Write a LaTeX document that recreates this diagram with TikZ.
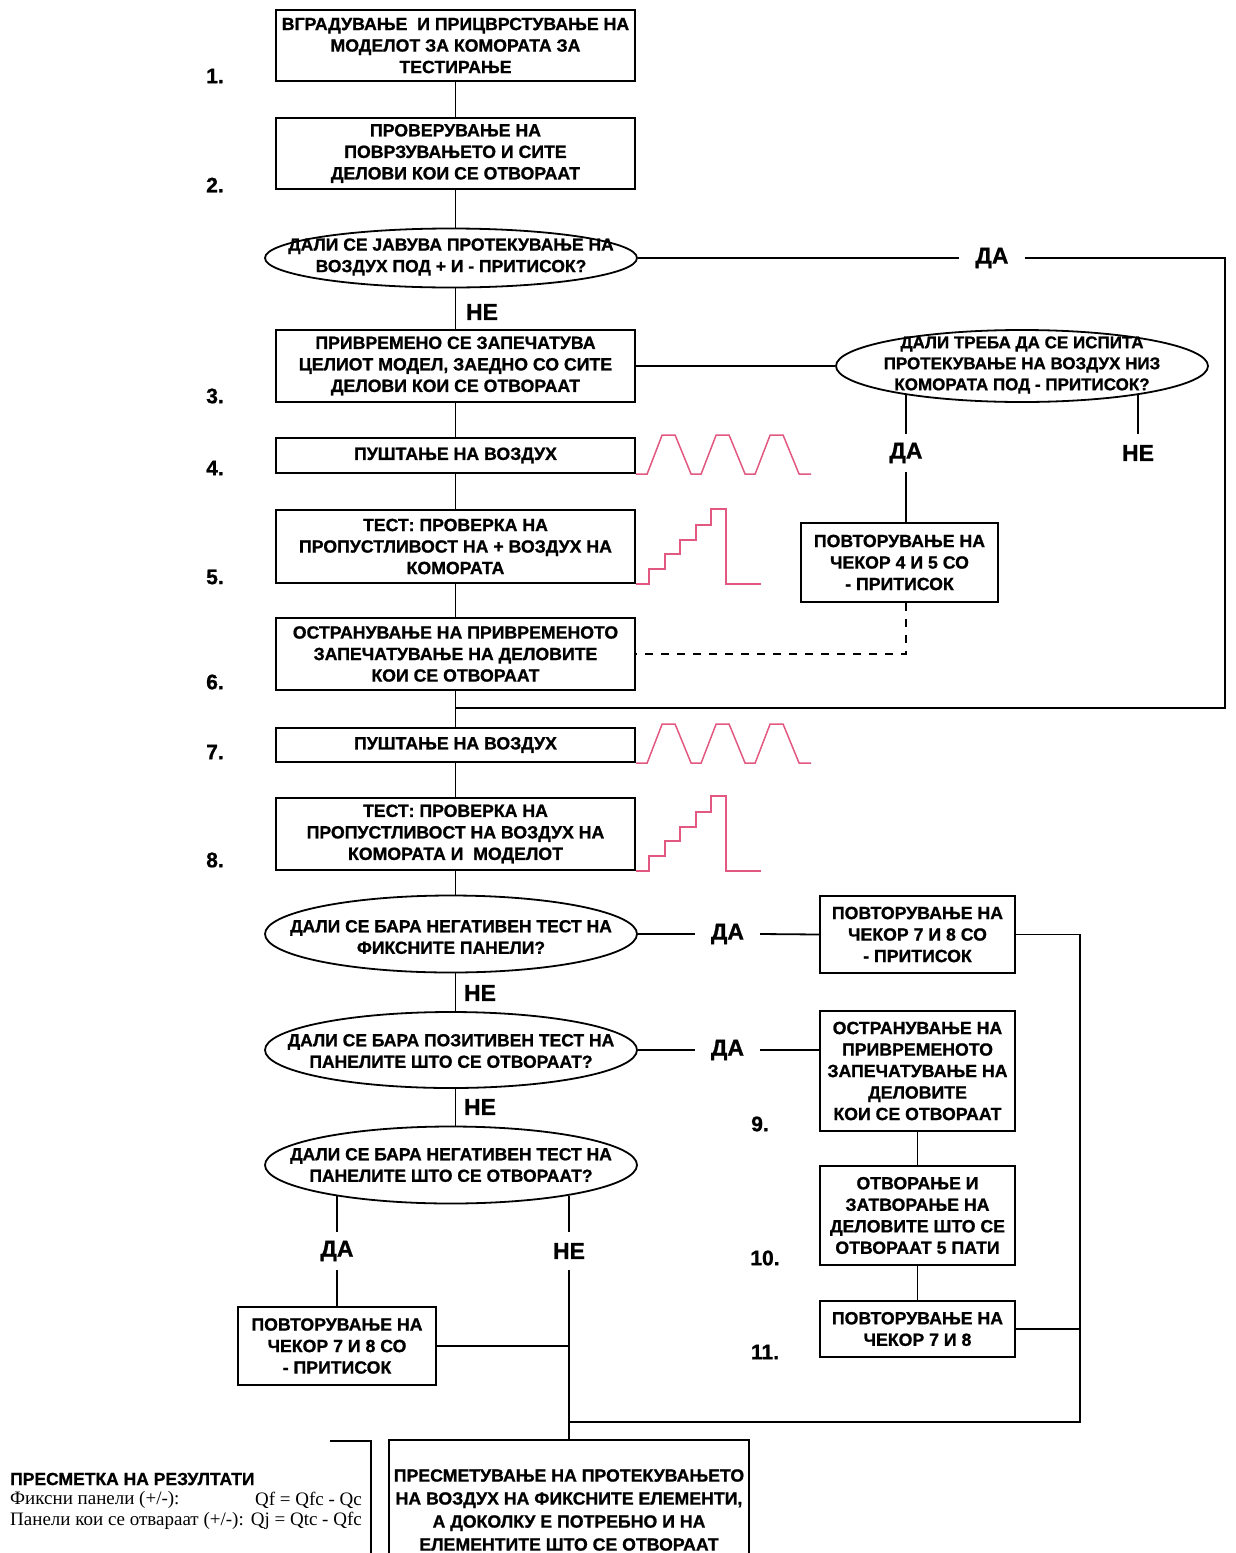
\documentclass[tikz,border=0pt]{standalone}
\usepackage{fontspec}
\setmainfont{Liberation Sans}[BoldFeatures={FakeBold=1}]
\newfontfamily\seriffont{Liberation Serif}
\usetikzlibrary{shapes.geometric}
\definecolor{wavepink}{RGB}{226,88,128}
\begin{document}
\begin{tikzpicture}[x=1pt,y=-1pt,
  box/.style={draw, line width=2.2pt, inner sep=0pt, align=center, font=\bfseries\fontsize{17.7}{21.5}\selectfont},
  dec/.style={draw, ellipse, line width=1.8pt, inner sep=0pt},
  dtext/.style={inner sep=0pt, align=center, font=\bfseries\fontsize{17.5}{21.5}\selectfont},
  conn/.style={line width=1.8pt},
  lbl/.style={font=\bfseries\fontsize{23}{23}\selectfont, inner sep=0pt, minimum height=37pt, minimum width=65pt},
  num/.style={font=\bfseries\fontsize{21}{21}\selectfont, inner sep=0pt},
  wave/.style={line width=1.5pt, draw=wavepink},
  mainbox/.style={box, minimum width=359pt},
  sidebox/.style={box, minimum width=195pt},
  serif/.style={inner sep=0pt, font=\seriffont\fontsize{19}{19}\selectfont},
]
\path[use as bounding box] (0,0) rectangle (1235,1553);
\clip (0,0) rectangle (1235,1553);
\fill[white] (0,0) rectangle (1235,1553);
\coordinate (cx) at (455.5,0);

% main column
\node[mainbox, minimum height=71pt] (b1) at (455.5,45.5) {ВГРАДУВАЊЕ\ \ И ПРИЦВРСТУВАЊЕ НА\\МОДЕЛОТ ЗА КОМОРАТА ЗА\\ТЕСТИРАЊЕ};
\node[mainbox, minimum height=71pt] (b2) at (455.5,153.5) {ПРОВЕРУВАЊЕ НА\\ПОВРЗУВАЊЕТО И СИТЕ\\ДЕЛОВИ КОИ СЕ ОТВОРААТ};
\node[dec, minimum width=372pt, minimum height=59pt] (e1) at (451,258) {};
\node[dtext] (e1t) at (451,257) {ДАЛИ СЕ ЈАВУВА ПРОТЕКУВАЊЕ НА\\ВОЗДУХ ПОД + И - ПРИТИСОК?};
\node[mainbox, minimum height=72pt] (b3) at (455.5,366) {ПРИВРЕМЕНО СЕ ЗАПЕЧАТУВА\\ЦЕЛИОТ МОДЕЛ, ЗАЕДНО СО СИТЕ\\ДЕЛОВИ КОИ СЕ ОТВОРААТ};
\node[mainbox, minimum height=35pt] (b4) at (455.5,455.5) {ПУШТАЊЕ НА ВОЗДУХ};
\node[mainbox, minimum height=73pt] (b5) at (455.5,546.5) {ТЕСТ: ПРОВЕРКА НА\\ПРОПУСТЛИВОСТ НА + ВОЗДУХ НА\\КОМОРАТА};
\node[mainbox, minimum height=72pt] (b6) at (455.5,654) {ОСТРАНУВАЊЕ НА ПРИВРЕМЕНОТО\\ЗАПЕЧАТУВАЊЕ НА ДЕЛОВИТЕ\\КОИ СЕ ОТВОРААТ};
\node[mainbox, minimum height=34pt] (b7) at (455.5,745) {ПУШТАЊЕ НА ВОЗДУХ};
\node[mainbox, minimum height=72pt] (b8) at (455.5,834) {ТЕСТ: ПРОВЕРКА НА\\ПРОПУСТЛИВОСТ НА ВОЗДУХ НА\\КОМОРАТА И\ \ МОДЕЛОТ};
\node[dec, minimum width=372pt, minimum height=77pt] (e3) at (451,934) {};
\node[dtext] (e3t) at (451,937) {ДАЛИ СЕ БАРА НЕГАТИВЕН ТЕСТ НА\\ФИКСНИТЕ ПАНЕЛИ?};
\node[dec, minimum width=372pt, minimum height=76pt] (e4) at (451,1050) {};
\node[dtext] (e4t) at (451,1051) {ДАЛИ СЕ БАРА ПОЗИТИВЕН ТЕСТ НА\\ПАНЕЛИТЕ ШТО СЕ ОТВОРААТ?};
\node[dec, minimum width=372pt, minimum height=77pt] (e5) at (451,1165) {};
\node[dtext] (e5t) at (451,1165) {ДАЛИ СЕ БАРА НЕГАТИВЕН ТЕСТ НА\\ПАНЕЛИТЕ ШТО СЕ ОТВОРААТ?};

% right branch, upper
\node[dec, minimum width=372pt, minimum height=72pt] (e2) at (1022,366) {};
\node[dtext, font=\bfseries\fontsize{17}{21}\selectfont] (e2t) at (1022,365) {ДАЛИ ТРЕБА ДА СЕ ИСПИТА\\ПРОТЕКУВАЊЕ НА ВОЗДУХ НИЗ\\КОМОРАТА ПОД - ПРИТИСОК?};
\node[box, minimum width=197pt, minimum height=79pt] (r45) at (899.5,562.5) {ПОВТОРУВАЊЕ НА\\ЧЕКОР 4 И 5 СО\\- ПРИТИСОК};

% right branch, lower
\node[sidebox, minimum height=77pt] (r78) at (917.5,934.5) {ПОВТОРУВАЊЕ НА\\ЧЕКОР 7 И 8 СО\\- ПРИТИСОК};
\node[sidebox, minimum height=120pt] (r9) at (917.5,1071) {ОСТРАНУВАЊЕ НА\\ПРИВРЕМЕНОТО\\ЗАПЕЧАТУВАЊЕ НА\\ДЕЛОВИТЕ\\КОИ СЕ ОТВОРААТ};
\node[sidebox, minimum height=99pt] (r10) at (917.5,1215.5) {ОТВОРАЊЕ И\\ЗАТВОРАЊЕ НА\\ДЕЛОВИТЕ ШТО СЕ\\ОТВОРААТ 5 ПАТИ};
\node[sidebox, minimum height=56pt] (r11) at (917.5,1329) {ПОВТОРУВАЊЕ НА\\ЧЕКОР 7 И 8};
\node[box, minimum width=198pt, minimum height=78pt] (l78) at (337,1346) {ПОВТОРУВАЊЕ НА\\ЧЕКОР 7 И 8 СО\\- ПРИТИСОК};
\node[box, minimum width=360pt, minimum height=140pt, font=\bfseries\fontsize{17.7}{23}\selectfont] (bot) at (569,1510) {ПРЕСМЕТУВАЊЕ НА ПРОТЕКУВАЊЕТО\\НА ВОЗДУХ НА ФИКСНИТЕ ЕЛЕМЕНТИ,\\А ДОКОЛКУ Е ПОТРЕБНО И НА\\ЕЛЕМЕНТИТЕ ШТО СЕ ОТВОРААТ};

% step numbers
\node[num] (n1) at (215,76) {1.};
\node[num] (n2) at (215,185) {2.};
\node[num] (n3) at (215,396) {3.};
\node[num] (n4) at (215,468) {4.};
\node[num] (n5) at (215,577) {5.};
\node[num] (n6) at (215,682) {6.};
\node[num] (n7) at (215,752) {7.};
\node[num] (n8) at (215,860) {8.};
\node[num] (n9) at (760,1124) {9.};
\node[num] (n10) at (765,1258) {10.};
\node[num] (n11) at (765,1352) {11.};

% yes/no labels
\node[lbl] (da1) at (992,258) {ДА};
\node[lbl, minimum width=0pt, minimum height=0pt] (ne1) at (482,312) {НЕ};
\node[lbl, minimum width=0pt] (da2) at (906,453) {ДА};
\node[lbl, minimum width=0pt] (ne2r) at (1138,453) {НЕ};
\node[lbl, minimum width=0pt, minimum height=0pt] (ne2) at (480,993) {НЕ};
\node[lbl, minimum width=0pt, minimum height=0pt] (ne3) at (480,1107) {НЕ};
\node[lbl] (da3) at (727.5,934) {ДА};
\node[lbl] (da4) at (727.5,1050) {ДА};
\node[lbl, minimum width=0pt, minimum height=38pt] (da5) at (337,1251) {ДА};
\node[lbl, minimum width=0pt, minimum height=38pt] (ne5) at (569,1251) {НЕ};

% connectors, main column
\draw[conn] (b1) -- (b2);
\draw[conn] (b2.south) -- (e1.north -| cx);
\draw[conn] (e1.south -| cx) -- (b3.north);
\draw[conn] (b3) -- (b4);
\draw[conn] (b4) -- (b5);
\draw[conn] (b5) -- (b6);
\draw[conn] (b6) -- (b7);
\draw[conn] (b7) -- (b8);
\draw[conn] (b8.south) -- (e3.north -| cx);
\draw[conn] (e3.south -| cx) -- (e4.north -| cx);
\draw[conn] (e4.south -| cx) -- (e5.north -| cx);

% loop from first decision
\coordinate (rt1) at (1225,258);
\coordinate (j6) at (455.5,708);
\draw[conn] (e1.east) -- (da1.west);
\draw[conn] (da1.east) -- (rt1) |- (j6);

% second decision
\draw[conn] (b3.east) -- (e2.west);
\draw[conn] (e2.193.6 -| da2) -- (da2.north);
\draw[conn] (e2.346.4 -| ne2r) -- (ne2r.north);
\draw[conn] (da2.south) -- (da2.south |- r45.north);
\draw[conn, dash pattern=on 8pt off 8pt] (r45.south -| da2) |- (b6.east);

% lower decisions
\coordinate (rt2) at (1080,934.5);
\coordinate (bj) at (569,1422);
\draw[conn] (e3.east) -- (da3.west);
\draw[conn] (da3.east) -- (r78.west);
\draw[conn] (r78.east) -- (rt2) |- (bj);
\draw[conn] (e4.east) -- (da4.west);
\draw[conn] (da4.east) -- (da4.east -| r9.west);
\draw[conn] (r9) -- (r10);
\draw[conn] (r10) -- (r11);
\draw[conn] (r11.east) -- (r11.east -| rt2);
\draw[conn] (e5.194.9 -| da5) -- (da5.north);
\draw[conn] (da5.south) -- (l78.north);
\draw[conn] (e5.345.8 -| ne5) -- (ne5.north);
\draw[conn] (ne5.south) -- (bot.north);
\draw[conn] (l78.east) -- (l78.east -| ne5);

% pressure curves
\draw[wave] (b4.south east) -- ++(11,0) -- ++(15,-39) -- ++(13,0) -- ++(16,39) -- ++(10,0) -- ++(15,-39) -- ++(13,0) -- ++(16,39) -- ++(10,0) -- ++(15,-39) -- ++(13,0) -- ++(16,39) -- ++(12,0);
\draw[wave] (b7.south east) -- ++(11,0) -- ++(15,-39) -- ++(13,0) -- ++(16,39) -- ++(10,0) -- ++(15,-39) -- ++(13,0) -- ++(16,39) -- ++(10,0) -- ++(15,-39) -- ++(13,0) -- ++(16,39) -- ++(12,0);
\draw[wave] (b5.south east) -- ++(13,0) -- ++(0,-15) -- ++(16,0) -- ++(0,-15) -- ++(15,0) -- ++(0,-14) -- ++(16,0) -- ++(0,-15) -- ++(15,0) -- ++(0,-16) -- ++(15,0) -- ++(0,75) -- ++(35,0);
\draw[wave] (b8.south east) -- ++(13,0) -- ++(0,-15) -- ++(16,0) -- ++(0,-15) -- ++(15,0) -- ++(0,-14) -- ++(16,0) -- ++(0,-15) -- ++(15,0) -- ++(0,-16) -- ++(15,0) -- ++(0,75) -- ++(35,0);

% results block
\draw[line width=2pt] (330,1441) -- (371,1441) -- (371,1560);
\node[anchor=west, inner sep=0pt, font=\bfseries\fontsize{17.5}{17.5}\selectfont] (res) at (10,1479) {ПРЕСМЕТКА НА РЕЗУЛТАТИ};
\node[serif, anchor=west] (fp) at (10,1500) {Фиксни панели (+/-):};
\node[serif, anchor=east] (fq) at (362,1500) {Qf = Qfc - Qc};
\node[serif, anchor=west] (op) at (10,1521) {Панели кои се отвараат (+/-):};
\node[serif, anchor=east] (oq) at (362,1521) {Qj = Qtc - Qfc};
\end{tikzpicture}
\end{document}
